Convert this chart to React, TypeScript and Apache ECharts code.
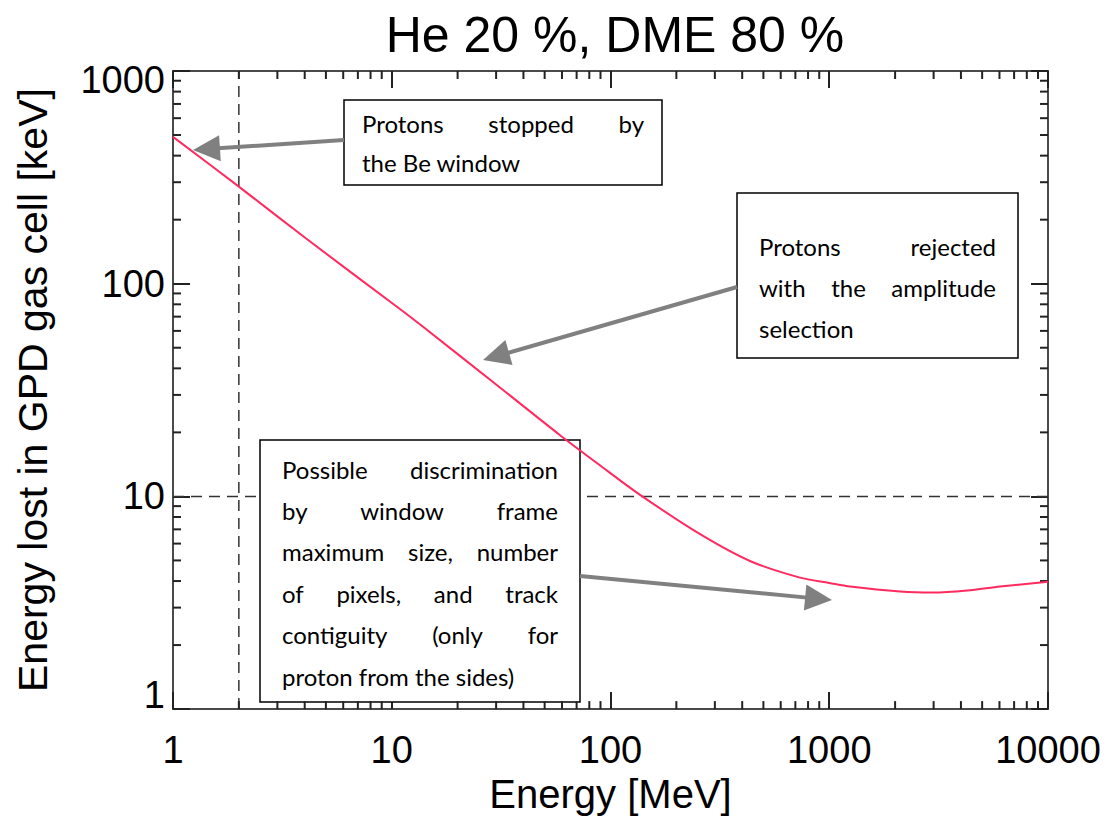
import React, { useEffect, useRef } from "react";
import * as echarts from "echarts";

// ---- data ----
const energyMeV = [1, 2, 4.06, 10.9, 13.9, 30, 58.8, 89.5, 136, 257, 434, 735, 1000, 1244, 2105, 2980, 4265, 6040, 10000];
const energyLostKeV = [490, 286, 163, 76, 62.7, 33.6, 19.4, 14.0, 10.2, 6.64, 4.97, 4.15, 3.92, 3.77, 3.57, 3.53, 3.61, 3.77, 3.97];

const xRange = [1, 10000];
const yRange = [1, 1000];
const xMinorTicks = [2, 3, 4, 5, 6, 7, 8, 9, 20, 30, 40, 50, 60, 70, 80, 90, 200, 300, 400, 500, 600, 700, 800, 900, 2000, 3000, 4000, 5000, 6000, 7000, 8000, 9000];
const yMinorTicks = [2, 3, 4, 5, 6, 7, 8, 9, 20, 30, 40, 50, 60, 70, 80, 90, 200, 300, 400, 500, 600, 700, 800, 900];

const windowEnergyMeV = 2; // vertical dashed reference
const thresholdKeV = 10; // horizontal dashed reference

const titleText = "He 20 %, DME 80 %";
const xName = "Energy [MeV]";
const yName = "Energy lost in GPD gas cell [keV]";

type Line = { text: string; justify: boolean };
const box1Lines: Line[] = [
  { text: "Protons stopped by", justify: true },
  { text: "the Be window", justify: false },
];
const box2Lines: Line[] = [
  { text: "Protons rejected", justify: true },
  { text: "with the amplitude", justify: true },
  { text: "selection", justify: false },
];
const box3Lines: Line[] = [
  { text: "Possible discrimination", justify: true },
  { text: "by window frame", justify: true },
  { text: "maximum size, number", justify: true },
  { text: "of pixels, and track", justify: true },
  { text: "contiguity (only for", justify: true },
  { text: "proton from the sides)", justify: false },
];

// ---- layout / style ----
const AX_FONT = "Liberation Sans";
const NOTE_FONT = "Lato";
const NOTE_SIZE = 24;
const GRID = { left: 173, right: 58, top: 71, bottom: 102 };

const boxes = [
  { x: 344, y: 100, w: 318, h: 85, firstY: 123, lineH: 39, pad: 18, lines: box1Lines },
  { x: 737, y: 193, w: 281, h: 165, firstY: 246, lineH: 41, pad: 22, lines: box2Lines },
  { x: 260, y: 440, w: 320, h: 262, firstY: 469, lineH: 41.4, pad: 22, lines: box3Lines },
];

const arrows = [
  { from: [344, 140], to: [193, 150] },
  { from: [737, 287], to: [483, 360] },
  { from: [580, 576], to: [832, 600] },
];

function measure(text: string): number {
  const c = document.createElement("canvas").getContext("2d");
  if (!c) return text.length * NOTE_SIZE * 0.5;
  c.font = `${NOTE_SIZE}px ${NOTE_FONT}`;
  return c.measureText(text).width;
}

function buildNotes(): any[] {
  const els: any[] = [];
  boxes.forEach((b) => {
    els.push({
      type: "rect",
      z: 5,
      shape: { x: b.x, y: b.y, width: b.w, height: b.h },
      style: { fill: "#ffffff", stroke: "#000000", lineWidth: 1.5 },
    });
    const left = b.x + b.pad;
    const inner = b.w - 2 * b.pad;
    b.lines.forEach((ln, i) => {
      const y = b.firstY + i * b.lineH;
      const words = ln.text.split(" ");
      if (ln.justify && words.length > 1) {
        const widths = words.map(measure);
        const total = widths.reduce((a, c) => a + c, 0);
        const gap = (inner - total) / (words.length - 1);
        let cx = left;
        words.forEach((w, k) => {
          els.push({
            type: "text",
            z: 6,
            x: cx,
            y,
            style: { text: w, fontSize: NOTE_SIZE, fontFamily: NOTE_FONT, fill: "#000", verticalAlign: "middle", align: "left" },
          });
          cx += widths[k] + gap;
        });
      } else {
        els.push({
          type: "text",
          z: 6,
          x: left,
          y,
          style: { text: ln.text, fontSize: NOTE_SIZE, fontFamily: NOTE_FONT, fill: "#000", verticalAlign: "middle", align: "left" },
        });
      }
    });
  });
  arrows.forEach((a) => {
    const [x1, y1] = a.from;
    const [x2, y2] = a.to;
    const dx = x2 - x1;
    const dy = y2 - y1;
    const len = Math.sqrt(dx * dx + dy * dy);
    const ux = dx / len;
    const uy = dy / len;
    const headL = 27;
    const headW = 13;
    const bx = x2 - ux * headL;
    const by = y2 - uy * headL;
    els.push({
      type: "line",
      z: 12,
      shape: { x1, y1, x2: bx + ux * 2, y2: by + uy * 2 },
      style: { stroke: "#808080", lineWidth: 4 },
    });
    els.push({
      type: "polygon",
      z: 12,
      shape: {
        points: [
          [x2, y2],
          [bx - uy * headW, by + ux * headW],
          [bx + uy * headW, by - ux * headW],
        ],
      },
      style: { fill: "#808080" },
    });
  });
  return els;
}

const axisLineStyle = { color: "#4a4a4a", width: 2 };
const tickStyle = { color: "#222", width: 2 };

export default function App() {
  const ref = useRef<HTMLDivElement>(null);
  useEffect(() => {
    if (!ref.current) return;
    const chart = echarts.init(ref.current, null, { renderer: "svg" });
    const curve = energyMeV.map((e, i) => [e, energyLostKeV[i]]);
    const yLabel = (v: number) => {
      if (v === yRange[0]) return `{lo|${v}}`;
      if (v === yRange[1]) return `{hi|${v}}`;
      return `{n|${v}}`;
    };
    const yRich = {
      n: { fontSize: 38, fontFamily: AX_FONT, color: "#000" },
      lo: { fontSize: 38, fontFamily: AX_FONT, color: "#000", padding: [0, 0, 28, 0] },
      hi: { fontSize: 38, fontFamily: AX_FONT, color: "#000", padding: [18, 0, 0, 0] },
    };
    const minorSeries = (vals: number[], horizontal: boolean) => ({
      type: "custom",
      silent: true,
      clip: false,
      z: 8,
      data: vals.map((v) => (horizontal ? [v, yRange[0]] : [xRange[0], v])),
      renderItem: (params: any, api: any) => {
        const v = horizontal ? api.value(0) : api.value(1);
        const L = 8;
        if (horizontal) {
          const b = api.coord([v, yRange[0]]);
          const t = api.coord([v, yRange[1]]);
          return {
            type: "group",
            children: [
              { type: "line", shape: { x1: b[0], y1: b[1], x2: b[0], y2: b[1] - L }, style: { stroke: "#222", lineWidth: 2 } },
              { type: "line", shape: { x1: t[0], y1: t[1], x2: t[0], y2: t[1] + L }, style: { stroke: "#222", lineWidth: 2 } },
            ],
          };
        }
        const l = api.coord([xRange[0], v]);
        const r = api.coord([xRange[1], v]);
        return {
          type: "group",
          children: [
            { type: "line", shape: { x1: l[0], y1: l[1], x2: l[0] + L, y2: l[1] }, style: { stroke: "#222", lineWidth: 2 } },
            { type: "line", shape: { x1: r[0], y1: r[1], x2: r[0] - L, y2: r[1] }, style: { stroke: "#222", lineWidth: 2 } },
          ],
        };
      },
    });

    chart.setOption({
      animation: false,
      backgroundColor: "#ffffff",
      title: {
        text: titleText,
        left: 610,
        textAlign: "center",
        top: 5,
        textStyle: { fontSize: 50, fontFamily: AX_FONT, fontWeight: "normal", color: "#000" },
      },
      grid: { ...GRID, containLabel: false },
      xAxis: [
        {
          type: "log",
          logBase: 10,
          min: xRange[0],
          max: xRange[1],
          position: "bottom",
          name: xName,
          nameLocation: "middle",
          nameGap: 60,
          nameTextStyle: { fontSize: 40, fontFamily: AX_FONT, color: "#000" },
          axisLine: { show: true, lineStyle: axisLineStyle },
          axisTick: { show: true, inside: true, length: 17, lineStyle: tickStyle },
          axisLabel: { fontSize: 38, fontFamily: AX_FONT, color: "#000", margin: 22, formatter: (v: number) => String(v) },
          splitLine: { show: false },
        },
        {
          type: "log",
          logBase: 10,
          min: xRange[0],
          max: xRange[1],
          position: "top",
          axisLine: { show: true, lineStyle: axisLineStyle },
          axisTick: { show: true, inside: true, length: 17, lineStyle: tickStyle },
          axisLabel: { show: false },
          splitLine: { show: false },
        },
      ],
      yAxis: [
        {
          type: "log",
          logBase: 10,
          min: yRange[0],
          max: yRange[1],
          position: "left",
          name: yName,
          nameLocation: "middle",
          nameGap: 120,
          nameRotate: 90,
          nameTextStyle: { fontSize: 41, fontFamily: AX_FONT, color: "#000" },
          axisLine: { show: true, lineStyle: axisLineStyle },
          axisTick: { show: true, inside: true, length: 17, lineStyle: tickStyle },
          axisLabel: { formatter: yLabel, rich: yRich, margin: 8 },
          splitLine: { show: false },
        },
        {
          type: "log",
          logBase: 10,
          min: yRange[0],
          max: yRange[1],
          position: "right",
          axisLine: { show: true, lineStyle: axisLineStyle },
          axisTick: { show: true, inside: true, length: 17, lineStyle: tickStyle },
          axisLabel: { show: false },
          splitLine: { show: false },
        },
      ],
      graphic: { elements: buildNotes() },
      series: [
        {
          type: "line",
          name: "window",
          data: [
            [windowEnergyMeV, yRange[0]],
            [windowEnergyMeV, yRange[1]],
          ],
          showSymbol: false,
          silent: true,
          z: 1,
          lineStyle: { color: "#333", width: 1.5, type: [11, 7] },
        },
        {
          type: "line",
          name: "threshold",
          data: [
            [xRange[0], thresholdKeV],
            [xRange[1], thresholdKeV],
          ],
          showSymbol: false,
          silent: true,
          z: 1,
          lineStyle: { color: "#333", width: 1.5, type: [11, 7] },
        },
        minorSeries(xMinorTicks, true),
        minorSeries(yMinorTicks, false),
        {
          type: "line",
          name: "Energy lost",
          data: curve,
          showSymbol: false,
          smooth: 0.3,
          z: 10,
          lineStyle: { color: "#ff2a5f", width: 2 },
        },
      ],
    });
    return () => chart.dispose();
  }, []);
  return <div ref={ref} style={{ position: "fixed", left: 0, top: 0, width: 1106, height: 819 }} />;
}
